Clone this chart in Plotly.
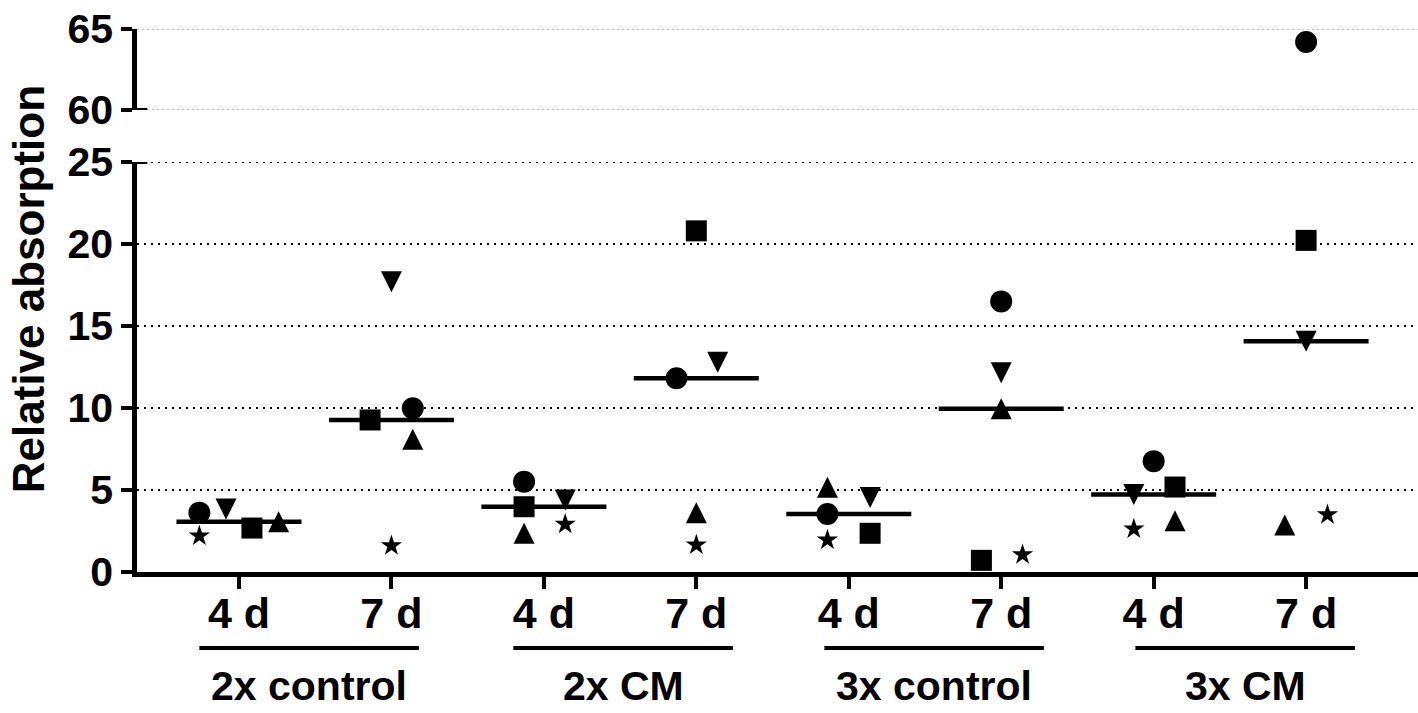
import numpy as np
import plotly.graph_objects as go

# categories
days = ["4 d", "7 d"]
groups = ["2x control", "2x CM", "3x control", "3x CM"]

# one value per column (2x control 4 d, 2x control 7 d, ... 3x CM 7 d)
circle = [3.62, 9.98, 5.51, 11.81, 3.54, 16.5, 6.76, 64.2]
square = [2.68, 9.27, 3.98, 20.8, 2.36, 0.71, 5.18, 20.22]
tri_up = [3.07, 8.09, 2.36, 3.62, 5.16, 9.96, 3.13, 2.86]
tri_down = [3.84, 17.7, 4.39, 12.79, 4.55, 12.15, 4.72, 14.07]
star = [2.2, 1.6, 2.91, 1.65, 1.95, 1.05, 2.63, 3.49]

# horizontal spreading of overlapping points (category units)
spread = {
    "circle": [-0.26, 0.14, -0.13, -0.13, -0.14, 0, 0, 0],
    "square": [0.085, -0.14, -0.13, 0, 0.14, -0.13, 0.14, 0],
    "up": [0.26, 0.14, -0.13, 0, -0.14, 0, 0.14, -0.14],
    "down": [-0.085, 0, 0.14, 0.14, 0.14, 0, -0.13, 0],
    "star": [-0.26, 0, 0.14, 0, -0.14, 0.14, -0.13, 0.14],
}

# marker styles: plotly's triangles are flat, so use centred arrow heads instead
TRI = 21
styles = {
    "circle": dict(symbol="circle", size=22),
    "square": dict(symbol="square", size=21),
    "up": dict(symbol="arrow-down", size=TRI, angle=180, standoff=TRI / 2),
    "down": dict(symbol="arrow-down", size=TRI, angle=0, standoff=TRI / 2),
    "star": dict(symbol="star", size=16),
}

series = [("circle", circle), ("square", square), ("up", tri_up),
          ("down", tri_down), ("star", star)]

FONT = "Liberation Sans, Arial, sans-serif"
cols = np.arange(len(days) * len(groups))

fig = go.Figure()

# median lines
vals = np.array([v for _, v in series])
for i in cols:
    med = float(np.median(vals[:, i]))
    fig.add_trace(go.Scatter(x=[i - 0.41, i + 0.41], y=[med, med], mode="lines",
                             line=dict(color="black", width=4.5),
                             showlegend=False, hoverinfo="skip"))

# points, drawn on both the lower and upper part of the broken axis
for key, v in series:
    xs = cols + np.array(spread[key])
    for ax in ["y", "y2"]:
        fig.add_trace(go.Scatter(x=xs, y=v, yaxis=ax, mode="markers",
                                 marker=dict(color="black", line=dict(width=0), **styles[key]),
                                 showlegend=False))

lower_dom = [0, 0.7551]
upper_dom = [0.8508, 1]

fig.update_layout(
    width=1418, height=713,
    margin=dict(l=137, r=0, t=29, b=141, autoexpand=False),
    plot_bgcolor="white", paper_bgcolor="white",
    font=dict(family=FONT, color="black"),
    xaxis=dict(
        range=[-0.669, 7.734], anchor="y", automargin=False,
        tickvals=list(cols), ticktext=days * len(groups),
        tickfont=dict(size=43, family=FONT, weight="bold"),
        ticks="outside", ticklen=12, tickwidth=4, tickcolor="black",
        ticklabelstandoff=-12, ticklabeloverflow="allow",
        showline=True, linewidth=4.5, linecolor="black",
        showgrid=False, zeroline=False,
    ),
    yaxis=dict(
        domain=lower_dom, range=[0, 25], anchor="x", automargin=False,
        tickvals=[0, 5, 10, 15, 20, 25], ticklabeloverflow="allow",
        tickfont=dict(size=41, family=FONT, weight="bold"),
        ticks="outside", ticklen=11, tickwidth=4, tickcolor="black",
        showline=True, linewidth=4.5, linecolor="black",
        showgrid=True, gridcolor="black", gridwidth=2, griddash="2px,5px",
        zeroline=False,
    ),
    yaxis2=dict(
        domain=upper_dom, range=[60, 65], anchor="x", automargin=False,
        tickvals=[60, 65], ticklabeloverflow="allow",
        tickfont=dict(size=41, family=FONT, weight="bold"),
        ticks="outside", ticklen=11, tickwidth=4, tickcolor="black",
        showline=True, linewidth=4.5, linecolor="black",
        showgrid=False, zeroline=False,
    ),
)

# grid lines sitting on the range ends (plotly leaves those out)
edge_grid = [("y", 25, "black", 2, "2px,5px"),
             ("y2", 60, "#a8a8a8", 1.5, "2px,3px"),
             ("y2", 65, "#a8a8a8", 1.5, "2px,3px")]
for yref, yv, col, w, dash in edge_grid:
    fig.add_shape(type="line", xref="paper", yref=yref, x0=0, x1=1, y0=yv, y1=yv,
                  layer="below", line=dict(color=col, width=w, dash=dash))

# end caps at the axis break
for yref, yv in [("y", 25), ("y2", 60)]:
    fig.add_shape(type="line", xref="paper", yref=yref, x0=-0.002, x1=0.008,
                  y0=yv, y1=yv, line=dict(color="black", width=4))

# group labels with underline
centers = [0.46, 2.52, 4.56, 6.6]
for c, g in zip(centers, groups):
    fig.add_shape(type="line", xref="x", yref="paper", x0=c - 0.72, x1=c + 0.72,
                  y0=-0.14, y1=-0.14, line=dict(color="black", width=4))
    fig.add_annotation(x=c, y=-0.21, xref="x", yref="paper", text=g, showarrow=False,
                       yanchor="middle", font=dict(size=41, family=FONT, weight="bold"))

fig.add_annotation(x=-0.085, y=0.521, xref="paper", yref="paper", text="Relative absorption",
                   textangle=-90, showarrow=False, xanchor="center", yanchor="middle",
                   font=dict(size=44, family=FONT, weight="bold"))

# drop the browser's default 8px page margin so the figure fills the window
fig.write_html("out.html", config={"displayModeBar": False},
               post_script="document.body.style.margin = '0';")
